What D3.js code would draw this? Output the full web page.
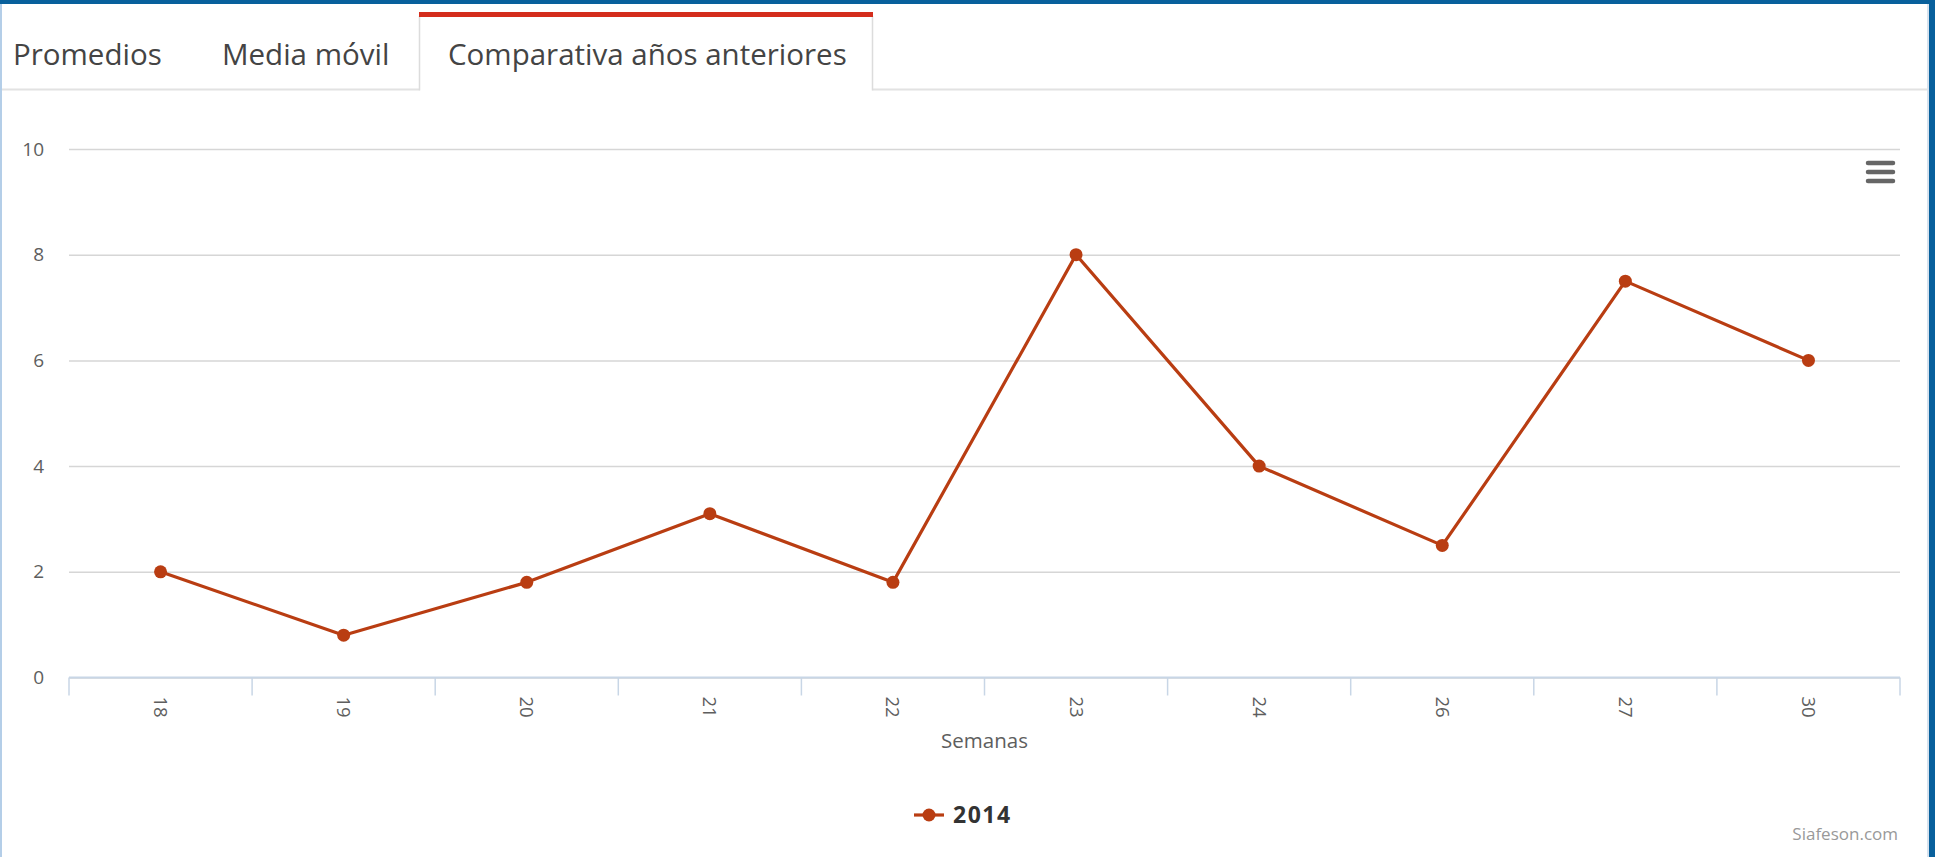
<!DOCTYPE html>
<html>
<head>
<meta charset="utf-8">
<script src="https://cdn.jsdelivr.net/npm/d3@7"></script>
<style>
  html, body { margin: 0; padding: 0; background: #fff; overflow: hidden; }
  svg { display: block; font-family: "Open Sans", sans-serif; }
</style>
</head>
<body>
<svg id="chart" width="1935" height="857"></svg>
<script>
// Weekly values for the 2014 season
const weeks = ["18", "19", "20", "21", "22", "23", "24", "26", "27", "30"];
const values2014 = [2.0, 0.8, 1.8, 3.1, 1.8, 8.0, 4.0, 2.5, 7.5, 6.0];
const yTicks = [0, 2, 4, 6, 8, 10];
const tabs = ["Promedios", "Media móvil", "Comparativa años anteriores"];
const seriesName = "2014";
const xTitle = "Semanas";
const credit = "Siafeson.com";

const W = 1935, H = 857;
const svg = d3.select("#chart");
const lineColor = "#b93d12";

// Page frame
svg.append("rect").attr("x", 0).attr("y", 0).attr("width", W).attr("height", H).attr("fill", "#fff");
svg.append("rect").attr("x", 0).attr("y", 0).attr("width", 2).attr("height", H).attr("fill", "#b4cee8");
svg.append("rect").attr("x", 1927).attr("y", 0).attr("width", 2).attr("height", H).attr("fill", "#d6e2ee");
svg.append("rect").attr("x", 1929).attr("y", 0).attr("width", 6).attr("height", H).attr("fill", "#08609c");
svg.append("rect").attr("x", 0).attr("y", 0).attr("width", W).attr("height", 4).attr("fill", "#08609c");

// Tab strip
const tabLineY = 89.5;
svg.append("line").attr("x1", 2).attr("x2", 1927).attr("y1", tabLineY).attr("y2", tabLineY)
  .attr("stroke", "#e2e2e2").attr("stroke-width", 2);
const tabX = [13, 222, 448];
const activeLeft = 419.5, activeRight = 872.5;
svg.append("rect").attr("x", activeLeft).attr("y", 14).attr("width", activeRight - activeLeft)
  .attr("height", tabLineY + 2 - 14).attr("fill", "#fff").attr("stroke", "none");
svg.append("path")
  .attr("d", `M${activeLeft},16V${tabLineY + 1}M${activeRight},16V${tabLineY + 1}`)
  .attr("stroke", "#dcdcdc").attr("stroke-width", 1.5).attr("fill", "none");
svg.append("rect").attr("x", activeLeft - 0.5).attr("y", 12).attr("width", activeRight - activeLeft + 1)
  .attr("height", 5).attr("fill", "#d42d1c");
svg.selectAll("text.tab").data(tabs).join("text")
  .attr("class", "tab")
  .attr("x", (d, i) => tabX[i])
  .attr("y", 65)
  .attr("font-size", 29.5)
  .attr("fill", "#444")
  .text(d => d);

// Scales
const plot = { left: 69, right: 1900, top: 149, bottom: 677.5 };
const x = d3.scaleBand().domain(weeks).range([plot.left, plot.right]);
const y = d3.scaleLinear().domain([0, 10]).range([plot.bottom, plot.top]);

// Horizontal grid + y labels
const yAxis = svg.append("g")
  .attr("transform", `translate(${plot.left},0)`)
  .call(d3.axisLeft(y).tickValues(yTicks).tickSize(-(plot.right - plot.left)).tickPadding(25).tickFormat(d3.format("d")));
yAxis.select(".domain").remove();
yAxis.selectAll(".tick line").attr("stroke", "#d6d6d6").attr("stroke-width", 1.5);
yAxis.selectAll(".tick text").attr("font-size", 19).attr("fill", "#5e5e5e").attr("font-family", "Open Sans, sans-serif");

// X axis line, boundary ticks and rotated labels
const xg = svg.append("g");
xg.append("line").attr("x1", plot.left).attr("x2", plot.right)
  .attr("y1", plot.bottom).attr("y2", plot.bottom)
  .attr("stroke", "#c8d6e6").attr("stroke-width", 2);
const bounds = d3.range(weeks.length + 1).map(i => plot.left + i * x.step());
xg.selectAll("line.bt").data(bounds).join("line")
  .attr("class", "bt")
  .attr("x1", d => d).attr("x2", d => d)
  .attr("y1", plot.bottom).attr("y2", plot.bottom + 18)
  .attr("stroke", "#c8d6e6").attr("stroke-width", 1.5);
const xAxis = svg.append("g")
  .attr("transform", `translate(0,${plot.bottom})`)
  .call(d3.axisBottom(x).tickSize(0).tickPadding(0));
xAxis.select(".domain").remove();
xAxis.selectAll(".tick text")
  .attr("font-size", 18.5).attr("fill", "#5e5e5e").attr("font-family", "Open Sans, sans-serif")
  .attr("transform", "translate(0,19) rotate(90)")
  .attr("text-anchor", "start")
  .attr("dy", "0.35em")
  .attr("y", 0).attr("x", 0);

svg.append("text").attr("x", (plot.left + plot.right) / 2).attr("y", 748)
  .attr("text-anchor", "middle").attr("font-size", 20.5).attr("fill", "#5e5e5e")
  .text(xTitle);

// Series line and markers
const cx = d => x(d) + x.bandwidth() / 2;
const line = d3.line().x((d, i) => cx(weeks[i])).y(d => y(d));
svg.append("path").datum(values2014)
  .attr("d", line).attr("fill", "none")
  .attr("stroke", lineColor).attr("stroke-width", 3.2).attr("stroke-linejoin", "round");
svg.selectAll("circle.pt").data(values2014).join("circle")
  .attr("class", "pt")
  .attr("cx", (d, i) => cx(weeks[i])).attr("cy", d => y(d))
  .attr("r", 6.5).attr("fill", lineColor);

// Legend
const lg = svg.append("g").attr("transform", "translate(914,815)");
lg.append("line").attr("x1", 0).attr("x2", 30).attr("y1", 0).attr("y2", 0)
  .attr("stroke", lineColor).attr("stroke-width", 3.2);
lg.append("circle").attr("cx", 15).attr("cy", 0).attr("r", 6.5).attr("fill", lineColor);
lg.append("text").attr("x", 39).attr("y", 0).attr("dy", "0.36em")
  .attr("font-size", 23).attr("font-weight", "bold").attr("letter-spacing", 1.5).attr("fill", "#333")
  .text(seriesName);

// Context menu icon
const menu = svg.append("g").attr("stroke", "#666").attr("stroke-width", 4.5).attr("stroke-linecap", "round");
[163, 172, 181].forEach(yy => {
  menu.append("line").attr("x1", 1868).attr("x2", 1893).attr("y1", yy).attr("y2", yy);
});

// Credits
svg.append("text").attr("x", 1898).attr("y", 840).attr("text-anchor", "end")
  .attr("font-size", 17).attr("fill", "#999").text(credit);
</script>
</body>
</html>
